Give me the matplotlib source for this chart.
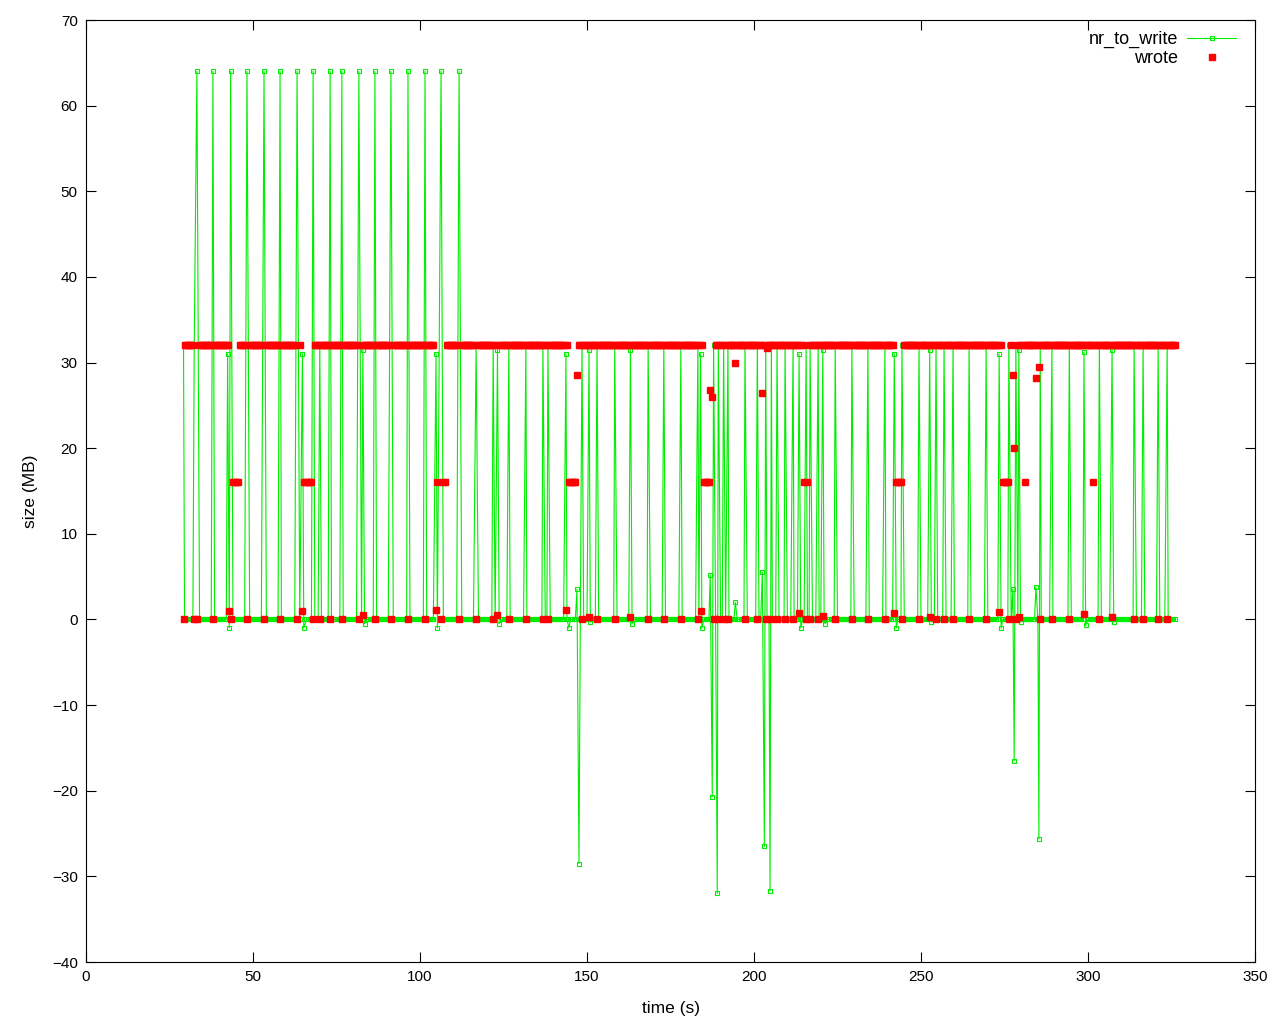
import numpy as np
import matplotlib
matplotlib.use("Agg")
import matplotlib.pyplot as plt

# --- data ---
t_start, t_end, t_step = 29.0, 326.0, 0.5   # sampling clock of the trace

# nr_to_write: every non-zero sample (time, MB); everything else sits at 0
nr_t = [29.2, 32.4, 33.2, 38.0, 42.4, 42.9, 43.3, 48.2, 53.3, 58.1,
        63.2, 64.8, 65.2, 68.0, 70.0, 73.1, 76.6, 81.7, 82.9, 83.4,
        86.5, 91.3, 96.4, 101.5, 104.8, 105.2, 106.3, 111.7, 116.8, 121.9,
        123.2, 123.7, 126.6, 131.7, 136.8, 138.3, 143.7, 144.6, 147.0, 147.6,
        148.5, 150.6, 151.0, 153.0, 158.3, 163.0, 163.5, 168.3, 173.0, 178.1,
        183.2, 184.0, 184.4, 186.9, 187.5, 187.9, 189.0, 189.3, 190.9, 192.2,
        194.4, 197.3, 201.0, 202.5, 203.1, 203.5, 204.8, 205.2, 206.9, 209.3,
        211.7, 213.5, 214.0, 215.6, 216.8, 219.2, 220.6, 221.3, 224.3, 229.3,
        234.1, 239.2, 242.0, 242.6, 244.3, 249.4, 252.6, 253.1, 254.5, 256.9,
        259.6, 264.4, 269.5, 273.4, 274.0, 276.3, 277.5, 277.9, 278.4, 279.3,
        279.8, 284.4, 285.3, 285.7, 289.2, 294.4, 298.8, 299.3, 303.4, 307.2,
        307.7, 313.8, 316.5, 321.0, 323.7]
nr_v = [32, 32, 64, 64, 31, -1, 64, 64, 64, 64,
        64, 31, -1, 64, 32, 64, 64, 64, 31.5, -0.5,
        64, 64, 64, 64, 31, -1, 64, 64, 32, 32,
        31.5, -0.5, 32, 32, 32, 32, 31, -1, 3.5, -28.5,
        32, 31.5, -0.3, 32, 32, 31.5, -0.5, 32, 32, 32,
        32, 31, -1, 5.2, -20.7, 32, -32, 32, 32, 32,
        2.0, 32, 32, 5.5, -26.5, 32, -31.7, 32, 32, 32,
        32, 31, -1, 32, 32, 32, 31.5, -0.5, 32, 32,
        32, 32, 31, -1, 32, 32, 31.5, -0.3, 32, 32,
        32, 32, 32, 31, -1, 32, 3.5, -16.5, 32, 31.5,
        -0.3, 3.8, -25.6, 32, 32, 32, 31.2, -0.7, 32, 31.5,
        -0.3, 32, 32, 32, 32]

# wrote: odd samples (everything else is 32, 16 inside the runs below,
# and 0 whenever nr_to_write jumps up to a full chunk)
wr_t = [42.9, 64.8, 82.9, 104.8, 123.2, 143.7, 147.0, 150.6, 163.0, 184.0,
        186.9, 187.5, 194.4, 202.5, 203.9, 213.5, 220.6, 242.0, 252.6, 273.4,
        277.5, 277.9, 279.3, 281.1, 284.4, 285.3, 298.8, 301.5, 307.2]
wr_v = [1.0, 1.0, 0.5, 1.1, 0.5, 1.1, 28.5, 0.3, 0.3, 1.0,
        26.8, 26.0, 30.0, 26.4, 31.7, 0.8, 0.4, 0.8, 0.3, 0.9,
        28.6, 20.0, 0.3, 16, 28.2, 29.5, 0.6, 16, 0.3]
half_runs = [(43.4, 45.8), (65.0, 68.0), (105.1, 107.5), (144.6, 146.7),
             (184.7, 186.5), (214.6, 216.4), (242.2, 244.6), (274.3, 276.9)]

# --- assemble the trace ---
nr_ev = dict(zip(nr_t, nr_v))
wr_ev = dict(zip(wr_t, wr_v))
ev_times = np.array(sorted(set(nr_t) | set(wr_t)))
base = [round(t, 2) for t in np.arange(t_start, t_end + 1e-9, t_step)
        if np.min(np.abs(ev_times - t)) > 0.3]
times = sorted(set(base) | set(ev_times.tolist()))

nr_to_write, wrote = [], []
for t in times:
    n = nr_ev.get(t, 0.0)
    nr_to_write.append(n)
    if t in wr_ev:
        w = wr_ev[t]
    elif n >= 32:
        w = 0.0
    elif any(a <= t <= b for a, b in half_runs):
        w = 16.0
    else:
        w = 32.0
    wrote.append(w)

# --- plot (gnuplot look) ---
plt.rcParams['font.family'] = ['Liberation Sans', 'DejaVu Sans']
fig = plt.figure(figsize=(12.8, 10.24), dpi=100)
ax = fig.add_axes([86 / 1280, 1 - 962 / 1024, (1255 - 86) / 1280, (962 - 20) / 1024])

ax.plot(times, nr_to_write, color='#00ee00', lw=0.8, marker='s', ms=3.4,
        mfc='none', mec='#00ee00', mew=0.8, label='nr_to_write')
ax.plot(times, wrote, ls='none', marker='s', ms=3.8, color='#ff0000',
        mec='#ff0000', label='wrote')

ax.set_xlim(0, 350)
ax.set_ylim(-40, 70)
ax.set_xticks(np.arange(0, 351, 50))
ax.set_yticks(np.arange(-40, 71, 10))
ax.tick_params(direction='in', length=7, width=0.8, top=True, right=True,
               labelsize=11, pad=6, colors='black')
for s in ax.spines.values():
    s.set_linewidth(0.8)
ax.set_xlabel('time (s)', fontsize=12.5, labelpad=12)
ax.set_ylabel('size (MB)', fontsize=12.5, labelpad=10)

# gnuplot key: labels right-aligned, sample to the right
ax.legend(loc='upper right', bbox_to_anchor=(0.993, 1.0), frameon=False,
          markerfirst=False, fontsize=13, handlelength=2.7, borderaxespad=0.2,
          borderpad=0.4, labelspacing=0.12, handletextpad=0.5)

fig.savefig('out.png', dpi=100)
